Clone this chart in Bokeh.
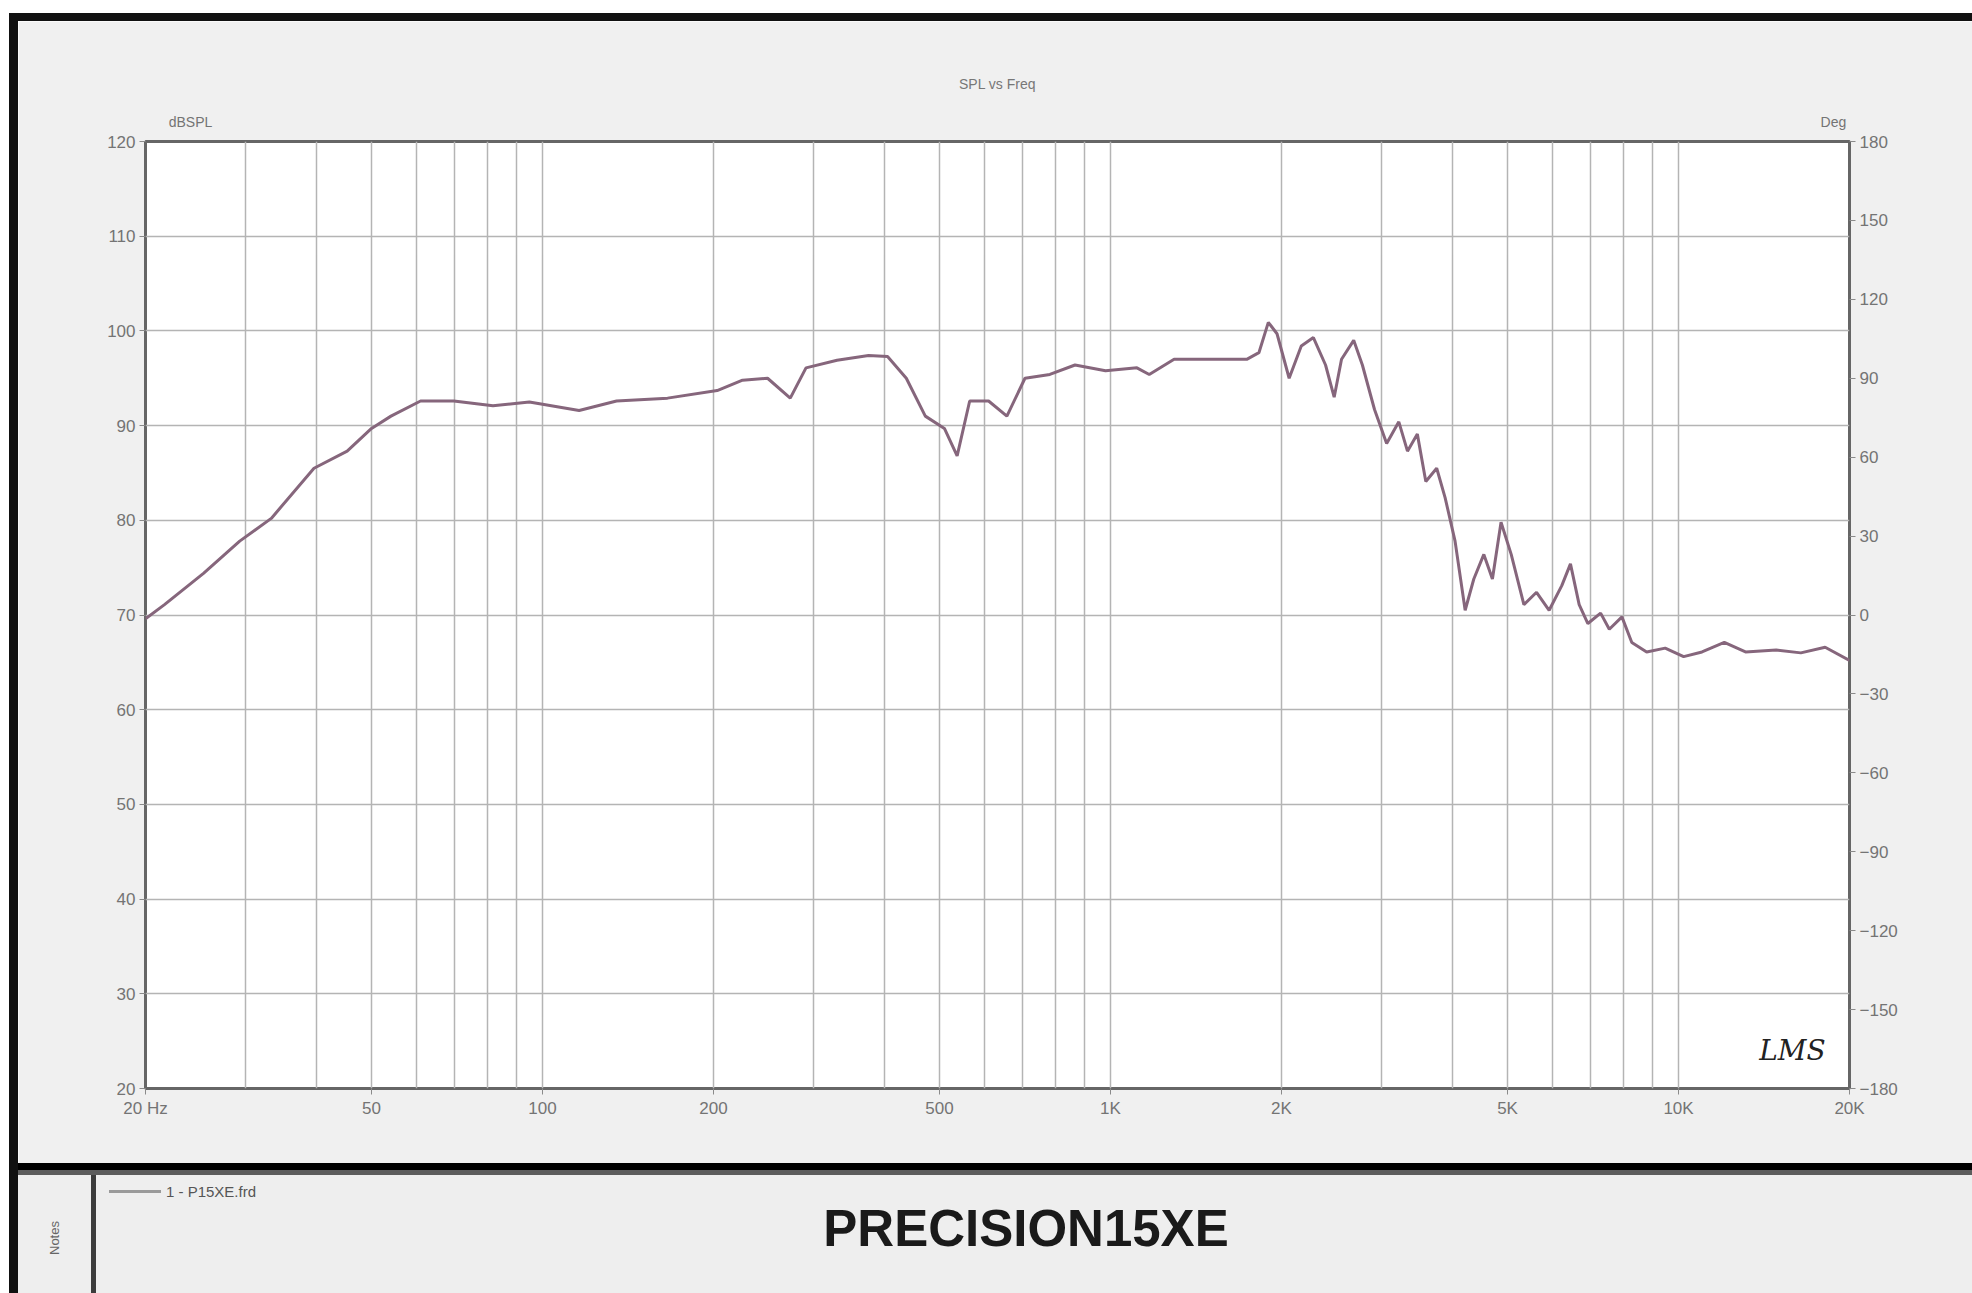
from bokeh.plotting import figure
from bokeh.models import Range1d, LinearAxis, LogAxis, FixedTicker, Label, Div
from bokeh.layouts import column, row
from bokeh.embed import file_html
from bokeh.resources import INLINE

# ---- data (SPL vs frequency) ----
freq_hz = [20, 21.6, 25.3, 29.3, 33.3, 39.6, 45.3, 50, 54.1, 61, 69.8, 81.8, 94.8,
           116, 135, 166, 203, 225, 249, 273, 291, 330, 375, 405, 437, 472, 510,
           537, 565, 610, 657, 707, 782, 866, 980, 1113, 1170, 1294, 1464, 1737,
           1825, 1896, 1964, 2063, 2167, 2276, 2391, 2476, 2551, 2680, 2776, 2916,
           3063, 3218, 3333, 3469, 3590, 3752, 3882, 4042, 4211, 4361, 4542, 4703,
           4870, 5075, 5343, 5624, 5919, 6230, 6453, 6685, 6925, 7292, 7554, 7950,
           8275, 8788, 9474, 10210, 11000, 12040, 13120, 14860, 16420, 18120, 20000]
spl_db = [69.6, 71.1, 74.4, 77.8, 80.2, 85.5, 87.3, 89.7, 91.0, 92.6, 92.6, 92.1, 92.5,
          91.6, 92.6, 92.9, 93.7, 94.8, 95.0, 92.9, 96.1, 96.9, 97.4, 97.3, 95.0, 91.0, 89.7,
          86.8, 92.6, 92.6, 91.0, 95.0, 95.4, 96.4, 95.8, 96.1, 95.4, 97.0, 97.0, 97.0,
          97.7, 100.9, 99.7, 95.0, 98.4, 99.3, 96.4, 93.0, 97.0, 99.0, 96.4, 91.7,
          88.1, 90.4, 87.3, 89.1, 84.1, 85.5, 82.4, 77.8, 70.5, 73.8, 76.4, 73.8,
          79.8, 76.4, 71.1, 72.4, 70.5, 73.1, 75.4, 71.1, 69.1, 70.2, 68.5, 69.8,
          67.1, 66.1, 66.5, 65.6, 66.1, 67.1, 66.1, 66.3, 66.0, 66.6, 65.2]

x_ticks = [20, 50, 100, 200, 500, 1000, 2000, 5000, 10000, 20000]
x_tick_labels = ["20 Hz", "50", "100", "200", "500", "1K", "2K", "5K", "10K", "20K"]
x_minor = [30, 40, 60, 70, 80, 90, 300, 400, 600, 700, 800, 900,
           3000, 4000, 6000, 7000, 8000, 9000]
spl_ticks = [20, 30, 40, 50, 60, 70, 80, 90, 100, 110, 120]
phase_ticks = [-180, -150, -120, -90, -60, -30, 0, 30, 60, 90, 120, 150, 180]

title_text = "SPL vs Freq"
unit_ticks = [24, 18740]
unit_labels = ["dBSPL", "Deg"]
legend_text = "1 - P15XE.frd"
model_name = "PRECISION15XE"
notes_text = "Notes"

CURVE = "#86667c"
GRID = "#b4b4b4"
TICKC = "#747474"
FONT = "Liberation Sans"

INNER_W = 1954

p = figure(width=INNER_W, height=1142, x_axis_type="log",
           x_range=Range1d(20, 20000), y_range=Range1d(20, 120),
           output_backend="svg", toolbar_location=None,
           min_border_left=127, min_border_right=123,
           min_border_top=120, min_border_bottom=75,
           background_fill_color="white", border_fill_color="#f0f0f0",
           outline_line_color="#666666", outline_line_width=3)

p.extra_y_ranges = {"phase": Range1d(-180, 180)}
rax = LinearAxis(y_range_name="phase", ticker=FixedTicker(ticks=phase_ticks))
p.add_layout(rax, "right")

tax = LogAxis(ticker=FixedTicker(ticks=unit_ticks),
              major_label_overrides={t: l for t, l in zip(unit_ticks, unit_labels)})
p.add_layout(tax, "above")

p.xaxis.ticker = FixedTicker(ticks=x_ticks, minor_ticks=x_minor)
p.below[0].major_label_overrides = {t: l for t, l in zip(x_ticks, x_tick_labels)}
p.yaxis.ticker = FixedTicker(ticks=spl_ticks)
rax.ticker = FixedTicker(ticks=phase_ticks)
tax.ticker = FixedTicker(ticks=unit_ticks)

for ax in p.axis:
    ax.axis_line_color = None
    ax.major_tick_line_color = "#8a8a8a"
    ax.major_tick_out = 6
    ax.major_tick_in = 0
    ax.minor_tick_line_color = None
    ax.major_label_text_font = FONT
    ax.major_label_text_font_size = "17px"
    ax.major_label_text_color = TICKC
    ax.major_label_standoff = 4

tax.major_tick_line_color = None
tax.major_tick_out = 0
tax.major_label_standoff = 12
tax.major_label_text_font_size = "14px"

p.title.text = title_text
p.title.align = "center"
p.title.text_font = FONT
p.title.text_font_size = "14px"
p.title.text_font_style = "normal"
p.title.text_color = "#777777"
p.title.standoff = 37

p.xgrid.grid_line_color = GRID
p.xgrid.grid_line_width = 1.5
p.xgrid.minor_grid_line_color = GRID
p.xgrid.minor_grid_line_width = 1.5
p.ygrid.grid_line_color = GRID
p.ygrid.grid_line_width = 1.5

p.line(freq_hz, spl_db, line_color=CURVE, line_width=3)

p.add_layout(Label(x=15870, y=24.0, text="LMS", text_align="center",
                   text_baseline="middle", text_font="DejaVu Serif",
                   text_font_style="italic", text_font_size="28px",
                   text_color="#222222"))

# ---- bottom panel (notes / legend / model name) ----
BH = 130
bottom_html = (
    '<div style="position:relative;width:%dpx;height:%dpx;background:#eeeeee;'
    'overflow:hidden;font-family:\'Liberation Sans\',Arial,sans-serif;">' % (INNER_W, BH)
    + '<div style="position:absolute;left:0;top:0;width:%dpx;height:7px;background:#000;"></div>' % INNER_W
    + '<div style="position:absolute;left:0;top:7px;width:%dpx;height:5px;background:#5c5c5c;"></div>' % INNER_W
    + '<div style="position:absolute;left:73px;top:12px;width:5px;height:%dpx;background:#3c3c3c;"></div>' % (BH - 12)
    + '<div style="position:absolute;left:28px;top:42px;width:16px;height:50px;'
      'writing-mode:vertical-rl;transform:rotate(180deg);font-size:13px;color:#666;">'
    + notes_text + '</div>'
    + '<div style="position:absolute;left:91px;top:27px;width:52px;height:3px;background:#9a9a9a;"></div>'
    + '<div style="position:absolute;left:148px;top:20px;font-size:15px;line-height:17px;color:#555;">'
    + legend_text + '</div>'
    + '<div style="position:absolute;left:0;width:2016px;top:38px;text-align:center;'
      'font-size:51px;line-height:56px;font-weight:bold;color:#1a1a1a;">'
    + model_name + '</div>'
    + '</div>'
)
bottom = Div(text=bottom_html, width=INNER_W, height=BH, margin=0)

top_gap = Div(text="", width=1972, height=13, margin=0)
left_gap = Div(text="", width=9, height=1280, margin=0)
left_bar = Div(text="", width=9, height=1280, margin=0,
               styles={"background-color": "#111111"})
top_bar = Div(text="", width=INNER_W, height=8, margin=0,
              styles={"background-color": "#111111"})

layout = column(top_gap, row(left_gap, left_bar, column(top_bar, p, bottom)))

open("out.html", "w").write(file_html(layout, INLINE))
